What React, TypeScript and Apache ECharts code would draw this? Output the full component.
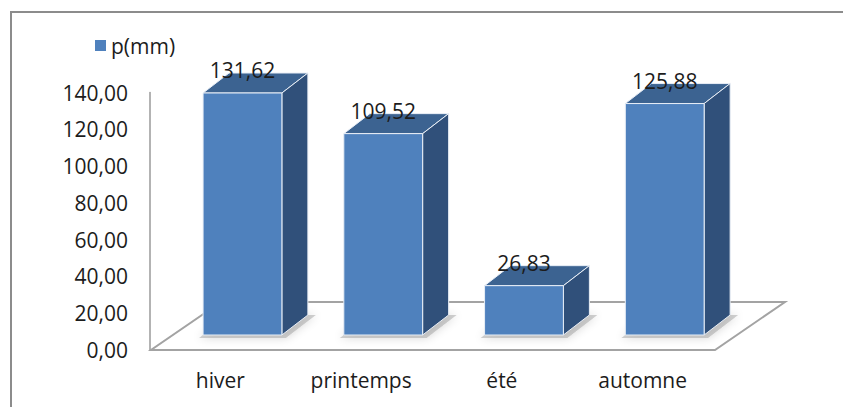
import React, { useEffect, useRef } from "react";
import * as echarts from "echarts";

const categories = ["hiver", "printemps", "été", "automne"];
const seriesName = "p(mm)";
const values = [131.62, 109.52, 26.83, 125.88];
const yMin = 0;
const yMax = 140;
const yInterval = 20;

const FONT = "Open Sans";
const FS = 21;
const TXT = "#1c1c1c";
const fmt = (v: number) => v.toFixed(2).replace(".", ",");

export default function App() {
  const ref = useRef<HTMLDivElement>(null);
  useEffect(() => {
    if (!ref.current) return;
    const chart = echarts.init(ref.current, null, { renderer: "svg" });
    const depthX = 26;
    const depthY = -20;
    const lift = 15;
    const option: any = {
      animation: false,
      backgroundColor: "#ffffff",
      textStyle: { fontFamily: FONT },
      graphic: [
        {
          type: "rect",
          shape: { x: 11, y: 12, width: 900, height: 500 },
          style: { fill: "none", stroke: "#8c8c8c", lineWidth: 2 },
          silent: true,
          z: 0,
        },
      ],
      legend: {
        data: [seriesName],
        left: 90,
        top: 30,
        itemWidth: 11,
        itemHeight: 11,
        itemGap: 10,
        icon: "rect",
        textStyle: { fontSize: FS, color: TXT, fontFamily: FONT },
      },
      grid: { left: 150, right: 130, top: 92.6, bottom: 57 },
      xAxis: {
        type: "category",
        data: categories,
        axisLine: { show: false },
        axisTick: { show: false },
        axisLabel: { fontSize: FS, color: TXT, margin: 19, fontFamily: FONT },
      },
      yAxis: {
        type: "value",
        min: yMin,
        max: yMax,
        interval: yInterval,
        axisLine: { show: true, lineStyle: { color: "#9a9a9a", width: 1.5 } },
        axisTick: { show: false },
        splitLine: { show: false },
        axisLabel: {
          fontSize: FS,
          color: TXT,
          margin: 22,
          fontFamily: FONT,
          formatter: (v: number) => fmt(v),
        },
      },
      series: [
        {
          name: "floor",
          type: "custom",
          z: 1,
          silent: true,
          data: [[0, 0]],
          encode: { x: 0, y: 1 },
          renderItem: (params: any, api: any) => {
            const bw = api.size([1, 0])[0];
            const p0 = api.coord([0, 0]);
            const p1 = api.coord([categories.length - 1, 0]);
            const lx = p0[0] - bw / 2 + 1;
            const rx = p1[0] + bw / 2 + 2;
            const y = p0[1];
            const fdx = 70;
            const fdy = -48;
            return {
              type: "group",
              children: [
                {
                  type: "polygon",
                  shape: {
                    points: [
                      [lx, y],
                      [rx, y],
                      [rx + fdx, y + fdy],
                      [lx + fdx, y + fdy],
                    ],
                  },
                  style: { fill: "#ffffff", stroke: "#a3a3a3", lineWidth: 2 },
                },
              ],
            };
          },
        },
        {
          name: seriesName,
          type: "custom",
          z: 3,
          itemStyle: { color: "#4F81BD" },
          data: values.map((v, i) => [i, v]),
          encode: { x: 0, y: 1 },
          renderItem: (params: any, api: any) => {
            const idx = api.value(0);
            const v = api.value(1);
            const bw = api.size([1, 0])[0];
            const base = api.coord([idx, 0]);
            const top = api.coord([idx, v]);
            const w = bw * 0.56;
            const cx = base[0] + bw * 0.157;
            const fx = cx - w / 2;
            const fb = base[1] - lift;
            const ft = top[1] - lift;
            return {
              type: "group",
              children: [
                {
                  type: "polygon",
                  shape: {
                    points: [
                      [fx - 4, fb + 3],
                      [fx + w + 4, fb + 3],
                      [fx + w + depthX + 8, fb + depthY],
                      [fx + depthX, fb + depthY],
                    ],
                  },
                  style: {
                    fill: "rgba(120,120,120,0.35)",
                    shadowBlur: 10,
                    shadowColor: "rgba(0,0,0,0.45)",
                  },
                },
                {
                  type: "polygon",
                  shape: {
                    points: [
                      [fx, ft],
                      [fx + depthX, ft + depthY],
                      [fx + w + depthX, ft + depthY],
                      [fx + w, ft],
                    ],
                  },
                  style: { fill: "#3c6391", stroke: "#e8eef6", lineWidth: 1 },
                },
                {
                  type: "polygon",
                  shape: {
                    points: [
                      [fx + w, ft],
                      [fx + w + depthX, ft + depthY],
                      [fx + w + depthX, fb + depthY],
                      [fx + w, fb],
                    ],
                  },
                  style: { fill: "#30507a", stroke: "#e8eef6", lineWidth: 1 },
                },
                {
                  type: "rect",
                  shape: { x: fx, y: ft, width: w, height: fb - ft },
                  style: { fill: "#4F81BD", stroke: "#e8eef6", lineWidth: 1 },
                },
                {
                  type: "text",
                  style: {
                    text: fmt(v),
                    x: cx,
                    y: ft - 23,
                    align: "center",
                    verticalAlign: "middle",
                    fontSize: FS,
                    fontFamily: FONT,
                    fill: TXT,
                  },
                },
              ],
            };
          },
        },
      ],
    };
    chart.setOption(option);
    return () => chart.dispose();
  }, []);
  return (
    <div
      ref={ref}
      style={{ position: "fixed", left: 0, top: 0, width: 843, height: 407 }}
    />
  );
}
